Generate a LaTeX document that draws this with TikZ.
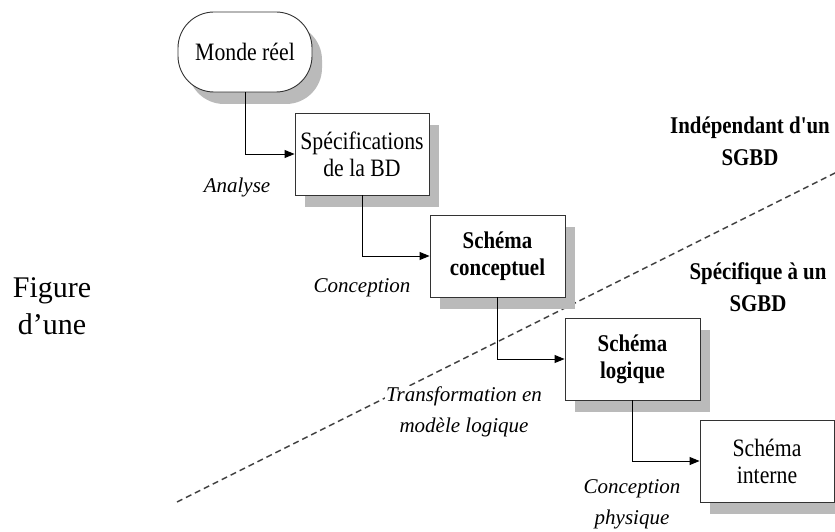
\documentclass[tikz,border=0pt]{standalone}
\usepackage{fontspec}
\setmainfont{Liberation Serif}
% families without TeX ligature mapping, so that ' stays a straight quote
\newfontfamily\txt{Liberation Serif}
\newfontfamily\narrow{Liberation Serif}[FakeStretch=0.87]
\usetikzlibrary{arrows.meta,shadows}
\begin{document}
\begin{tikzpicture}[x=1pt,y=-1pt,
  stage/.style={draw=black!80, line width=0.9pt, fill=white,
    minimum width=134pt, minimum height=82pt, align=center, inner sep=2pt,
    drop shadow={shadow xshift=10pt, shadow yshift=-12pt, fill=black!27, opacity=1}},
  plain/.style={font=\narrow\fontsize{25}{27}\selectfont},
  strong/.style={font=\narrow\fontsize{24}{27}\selectfont\bfseries},
  phase/.style={font=\txt\fontsize{21}{31}\selectfont\itshape, align=center},
  zone/.style={font=\narrow\fontsize{24}{32}\selectfont\bfseries, align=center},
  flow/.style={draw=black, line width=1pt, -{Triangle[length=10pt,width=8pt]}},
  border/.style={draw=black!75, line width=1.5pt, dash pattern=on 6pt off 4pt}
]
\useasboundingbox (0,0) rectangle (835,532);

% boundary between the two levels
\coordinate (lineA) at (177,502);
\coordinate (lineB) at (845,168);
\draw[border] (lineA) -- (lineB);

% stages
\node[stage, plain, rounded corners=36pt, minimum height=80pt] (monde) at (245,52) {Monde réel};
\node[stage, plain] (spec) at (362,154) {Spécifications\\de la BD};
\node[stage, strong, minimum width=135pt] (concept) at (497.5,256) {Schéma\\conceptuel};
\node[stage, strong, minimum width=135pt] (logique) at (632.5,359) {Schéma\\logique};
\node[stage, plain] (interne) at (767,461) {Schéma\\interne};

% transitions
\draw[flow] (monde.south) |- (spec.west);
\draw[flow] (spec.south) |- (concept.west);
\draw[flow] (concept.south) |- (logique.west);
\draw[flow] (logique.south) |- (interne.west);

% transition labels
\node[phase] (analyse) at (237,187) {Analyse};
\node[phase] (conception) at (362,288) {Conception};
\node[phase, fill=white, inner sep=1pt] (transfo) at (464,412) {Transformation en\\modèle logique};
\node[phase] (physique) at (632,504) {Conception\\physique};

% level labels
\node[zone] (indep) at (750,141) {Indépendant d'un\\SGBD};
\node[zone] (specif) at (758,287) {Spécifique à un\\SGBD};

% caption fragment
\node[font=\txt\fontsize{30}{37}\selectfont, align=center] (fig) at (52,306) {Figure\\d’une};
\end{tikzpicture}
\end{document}
